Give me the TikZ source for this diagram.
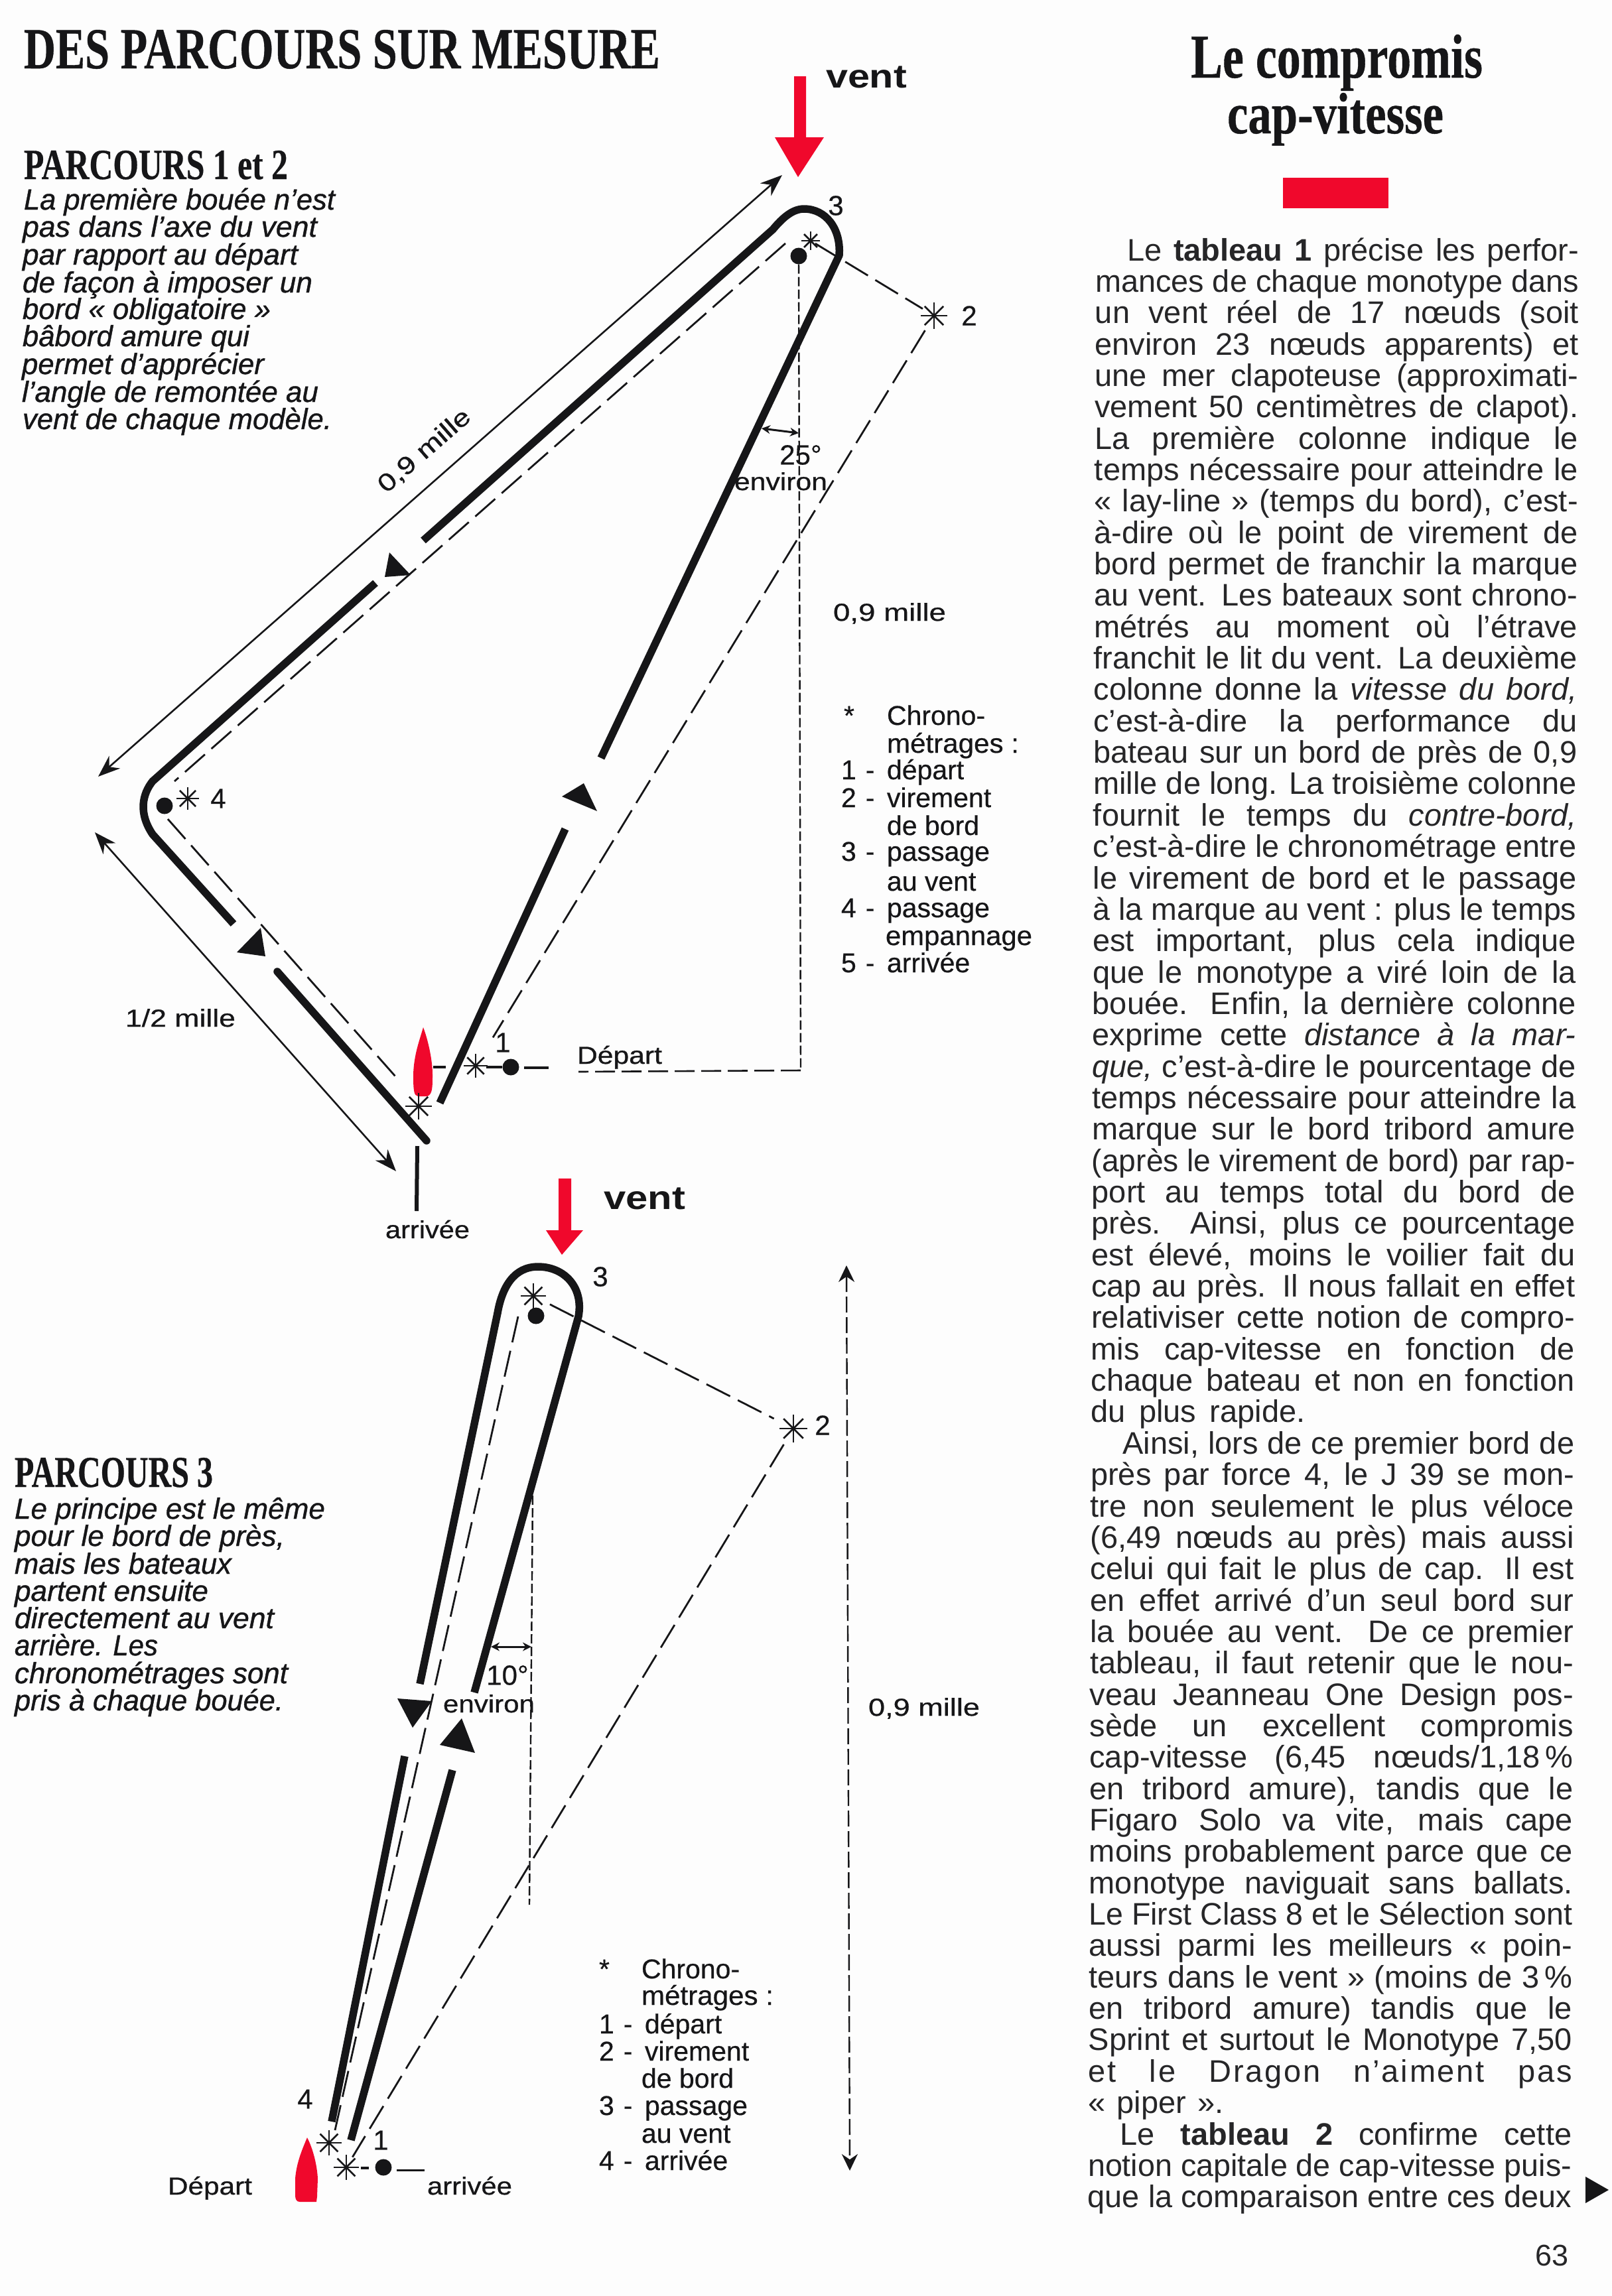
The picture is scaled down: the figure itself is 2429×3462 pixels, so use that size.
\documentclass[tikz,border=0pt]{standalone}
\usepackage{graphicx}
\usepackage{fontspec}
\setmainfont{Liberation Sans}
\newfontfamily\headf[FakeBold=0.5]{Liberation Serif}
\newfontfamily\medf[FakeBold=0.45]{Liberation Sans}
\newfontfamily\labf[FakeBold=0.7]{Liberation Sans}
\newfontfamily\notef[FakeBold=0.9]{Liberation Sans}
\usetikzlibrary{arrows.meta}
\definecolor{ink}{RGB}{22,22,24}
\definecolor{bodyink}{RGB}{38,38,40}
\definecolor{paper}{RGB}{253,253,253}
\definecolor{redm}{RGB}{240,8,44}
\newsavebox\fbx
\newcommand\fitbox[2]{\sbox\fbx{#2}\ifdim\wd\fbx>#1pt\relax\pgfmathsetmacro\fbf{#1/(\the\wd\fbx)}\scalebox{\fbf}[1]{\usebox\fbx}\else\makebox[#1pt][s]{#2}\fi}
\newcommand\xfit[2]{\sbox\fbx{#2}\pgfmathsetmacro\fbf{#1/(\the\wd\fbx)}\scalebox{\fbf}[1]{\usebox\fbx}}
\newcommand\xyfit[3]{\sbox\fbx{#3}\pgfmathsetmacro\fbf{#1/(\the\wd\fbx)}\pgfmathsetmacro\fbg{#2/(\the\ht\fbx)}\scalebox{\fbf}[\fbg]{\usebox\fbx}}
\newcommand\fs[1]{\fontsize{#1pt}{#1pt}\selectfont}
\newcommand\bodyline[3]{%
 \pgfmathsetmacro\yy{393+47.35*(#1-1)}%
 \pgfmathsetmacro\xx{1651-(\yy-450)*0.00386+#2}%
 \pgfmathsetmacro\ww{729-#2}%
 \node[bodytxt] (b#1) at (\xx,\yy) {\fitbox{\ww}{#3}};}
\newcommand\bodyshort[3]{%
 \pgfmathsetmacro\yy{393+47.35*(#1-1)}%
 \pgfmathsetmacro\xx{1651-(\yy-450)*0.00386}%
 \node[bodytxt] (b#1) at (\xx,\yy) {\fitbox{#2}{#3}};}
\newcommand\note[5]{\node[notetxt] (#1) at (#2,#3) {\xfit{#4}{#5}};}
\newcommand\legl[6]{\node[legtxt] (#1) at (#2,#3) {\makebox[69pt][l]{#4\hspace{14pt}#5}#6};}
\newcommand\starat[4]{\coordinate (#1) at (#2,#3);
 \foreach \a in {0,45,90,135}{\draw[starline] (#1) ++(\a:#4pt) -- ++(\a+180:#4*2pt);}}
\tikzset{
 x=1pt,y=-1pt,
 bodytxt/.style={inner sep=0pt,outer sep=0pt,anchor=base west,text=bodyink,font=\fs{47}},
 notetxt/.style={inner sep=0pt,outer sep=0pt,anchor=base west,text=ink,font=\notef\fs{44}\itshape},
 headtxt/.style={inner sep=0pt,outer sep=0pt,anchor=base west,text=ink,font=\headf\bfseries\fs{80}},
 legtxt/.style={inner sep=0pt,outer sep=0pt,anchor=base west,text=ink,font=\medf\fs{41}},
 lab/.style={inner sep=0pt,outer sep=0pt,text=ink,font=\labf\fs{37}},
 num/.style={inner sep=0pt,outer sep=0pt,text=ink,font=\medf\fs{42}},
 labw/.style={lab,anchor=base west},
 ventlab/.style={inner sep=0pt,outer sep=0pt,anchor=base west,text=ink,font=\bfseries\fs{50}},
 track/.style={draw=ink,line width=11.5pt,line cap=butt,line join=round},
 dirtri/.style={fill=ink,draw=none},
 course/.style={draw=ink,line width=2.8pt,dash pattern=on 40pt off 13pt},
 axis/.style={draw=ink,line width=2.4pt,dash pattern=on 14pt off 5pt},
 dim/.style={draw=ink,line width=2.6pt,{Stealth[length=33pt,width=25pt]}-{Stealth[length=33pt,width=25pt]}},
 dimdash/.style={draw=ink,line width=2.4pt,dash pattern=on 24pt off 7pt,{Stealth[length=25pt,width=24pt]}-{Stealth[length=25pt,width=24pt]}},
 anglearrow/.style={draw=ink,line width=3pt,{Stealth[length=13pt,width=13pt]}-{Stealth[length=13pt,width=13pt]}},
 starline/.style={draw=ink,line width=2.6pt},
 buoy/.style={circle,fill=ink,draw=none,minimum size=25pt,inner sep=0pt},
 redfill/.style={fill=redm,draw=none},
 bar/.style={draw=ink,line width=4pt},
}
\begin{document}
\begin{tikzpicture}
\useasboundingbox[fill=paper] (0,0) rectangle (2429,3462);
% --- headings
\node[headtxt] (h0) at (36,103) {\xyfit{959}{58}{DES PARCOURS SUR MESURE}};
\node[headtxt] (h1) at (36,270) {\xyfit{398}{43}{PARCOURS 1 et 2}};
\node[headtxt] (h2) at (22,2242) {\xyfit{299}{44}{PARCOURS 3}};
\node[headtxt] (h3) at (1795,117) {\xyfit{440}{65}{Le compromis}};
\node[headtxt] (h4) at (1850,201) {\xyfit{326}{61}{cap-vitesse}};
\fill[redfill] (1934,268) rectangle (2093,314);
% --- left notes
\note{n1}{36}{316}{469}{La première bouée n’est}
\note{n2}{34}{357}{444}{pas dans l’axe du vent}
\note{n3}{34}{399}{415}{par rapport au départ}
\note{n4}{34}{441}{437}{de façon à imposer un}
\note{n5}{34}{481}{374}{bord « obligatoire »}
\note{n6}{34}{522}{342}{bâbord amure qui}
\note{n7}{33}{564}{365}{permet d’apprécier}
\note{n8}{33}{606}{447}{l’angle de remontée au}
\note{n9}{34}{647}{466}{vent de chaque modèle.}
\note{m1}{22}{2290}{468}{Le principe est le même}
\note{m2}{22}{2331}{407}{pour le bord de près,}
\note{m3}{22}{2373}{327}{mais les bateaux}
\note{m4}{22}{2414}{292}{partent ensuite}
\note{m5}{22}{2455}{391}{directement au vent}
\note{m6}{22}{2496}{216}{arrière. Les}
\note{m7}{22}{2538}{412}{chronométrages sont}
\note{m8}{22}{2579}{405}{pris à chaque bouée.}
% --- diagram 1: points
\node[buoy] (d3) at (1204,386) {};
\node[buoy] (d4) at (248,1215) {};
\node[buoy] (d1) at (770,1609) {};
\starat{s3}{1222}{363}{14}
\starat{s2}{1408}{476}{20}
\starat{s4}{283}{1204}{17}
\starat{s1}{717}{1607}{18}
\starat{s5}{631}{1668}{20}
\coordinate (c3a) at (1184,367);
\coordinate (c4a) at (263,1178);
\coordinate (c4b) at (253,1235);
\coordinate (c5b) at (604,1632);
\coordinate (corner) at (1207,1614);
\coordinate (depu) at (872,1616);
\coordinate (tipA) at (1179,264);
\coordinate (tipB) at (148,1171);
\coordinate (tipC) at (143,1255);
\coordinate (tipD) at (597,1766);
\coordinate (barA) at (629,1728);
\coordinate (barB) at (628,1826);
\coordinate (gateA) at (653,1609);
\coordinate (gateB) at (672,1609);
\coordinate (gateC) at (733,1609);
\coordinate (gateD) at (790,1610);
\coordinate (gateE) at (827,1610);
% course lines
\draw[course,shorten <=8pt,shorten >=20pt] (s3) -- (s2);
\draw[course,shorten >=50pt,shorten <=26pt] (s2) -- (s1);
\draw[course] (c3a) -- (c4a);
\draw[course] (c4b) -- (c5b);
\draw[axis] (d3) -- (corner);
\draw[draw=ink,line width=2.6pt,dash pattern=on 30pt off 10pt] (corner) -- (depu);
% thick track
\draw[track] (638,815) -- (1165,346) .. controls (1180,328) and (1195,315) .. (1212,315) .. controls (1245,315) and (1268,345) .. (1265,385) -- (906,1143);
\draw[track] (566,879) -- (230,1178) .. controls (215,1197) and (208,1225) .. (230,1258) -- (352,1393);
\draw[track,line cap=round] (418,1465) -- (643,1720);
\draw[track] (852,1250) -- (663,1663);
\fill[dirtri] (587,833) -- (580,870) -- (619,867) -- cycle;
\fill[dirtri] (393,1399) -- (357,1436) -- (400,1442) -- cycle;
\fill[dirtri] (880,1181) -- (847,1201) -- (900,1223) -- cycle;
% dimensions
\draw[dim] (tipA) -- (tipB);
\draw[dim] (tipC) -- (tipD);
\coordinate (a25l) at (1148,646);
\coordinate (a25r) at (1204,653);
\draw[anglearrow] (a25l) -- (a25r);
% start and finish marks
\draw[bar] (gateA) -- (gateB);
\draw[bar] (gateC) -- (d1);
\draw[bar] (gateD) -- (gateE);
\draw[draw=ink,line width=6pt] (barA) -- (barB);
\fill[redfill] (638,1549) .. controls (646,1570) and (652,1600) .. (652,1620) .. controls (652,1640) and (652,1650) .. (644,1653) -- (630,1653) .. controls (624,1652) and (623,1645) .. (623,1620) .. controls (624,1590) and (632,1570) .. (638,1549) -- cycle;
\draw[starline] (s5) ++(90:20pt) -- ++(-90:40pt);
% labels diagram 1
\fill[redfill] (1197,115) -- (1215,115) -- (1215,207) -- (1242,207) -- (1203,267) -- (1168,207) -- (1197,207) -- cycle;
\node[ventlab] (v1) at (1245,132) {\xfit{122}{vent}};
\node[num] (l3) at (1260,310) {3};
\node[num] (l2) at (1461,476) {2};
\node[num] (l4) at (329,1204) {4};
\node[num] (l1) at (758,1572) {1};
\node[lab,rotate=41] (mille09a) at (640,680) {\xfit{172}{0,9 mille}};
\node[labw] (mille09b) at (1256,936) {\xfit{170}{0,9 mille}};
\node[num] (deg25) at (1207,686) {25°};
\node[labw] (env25) at (1107,739) {\xfit{140}{environ}};
\node[labw] (mille12) at (189,1548) {\xfit{166}{1/2 mille}};
\node[labw] (dep1) at (870,1604) {\xfit{128}{Départ}};
\node[labw] (arr1) at (581,1867) {\xfit{127}{arrivée}};
% legend 1
\node[legtxt] (astA) at (1272,1093) {*};
\node[legtxt] (la0) at (1337,1093) {Chrono-};
\node[legtxt] (la1) at (1337,1135) {\xfit{199}{métrages :}};
\legl{la2}{1268}{1175}{1}{-}{départ}
\legl{la3}{1268}{1217}{2}{-}{virement}
\node[legtxt] (la4) at (1337,1259) {de bord};
\legl{la5}{1268}{1298}{3}{-}{passage}
\node[legtxt] (la6) at (1337,1343) {au vent};
\legl{la7}{1268}{1383}{4}{-}{passage}
\node[legtxt] (la8) at (1335,1425) {\xfit{221}{empannage}};
\legl{la9}{1268}{1466}{5}{-}{arrivée}
% --- diagram 2
\fill[redfill] (842,1777) -- (861,1777) -- (861,1855) -- (879,1855) -- (847,1892) -- (823,1855) -- (842,1855) -- cycle;
\node[ventlab] (v2) at (910,1823) {\xfit{123}{vent}};
\node[buoy] (e3) at (808,1984) {};
\node[buoy] (e1) at (578,3268) {};
\starat{t3}{804}{1954}{19}
\starat{t2}{1196}{2154}{21}
\starat{t4}{496}{3231}{19}
\starat{t1}{522}{3268}{19}
\coordinate (e3a) at (781,1985);
\coordinate (e3b) at (505,3212);
\coordinate (ax10t) at (803,2255);
\coordinate (ax10b) at (798,2872);
\coordinate (up) at (1276,1908);
\coordinate (down) at (1281,3273);
\coordinate (hA) at (544,3269);
\coordinate (hB) at (556,3269);
\coordinate (hC) at (598,3272);
\coordinate (hD) at (640,3272);
\draw[course,shorten <=28pt,shorten >=33pt] (t3) -- (t2);
\draw[course,shorten <=28pt,shorten >=18pt] (t2) -- (t1);
\draw[course] (e3a) -- (e3b);
\draw[axis] (ax10t) -- (ax10b);
\draw[dimdash] (up) -- (down);
\draw[track] (715,2552) -- (872,1985) .. controls (880,1940) and (850,1910) .. (811,1910) .. controls (775,1910) and (757,1940) .. (750,1980) -- (633,2539);
\draw[track] (610,2648) -- (500,3199);
\draw[track] (682,2669) -- (529,3227);
\fill[dirtri] (599,2561) -- (651,2565) -- (622,2605) -- cycle;
\fill[dirtri] (696,2591) -- (663,2631) -- (716,2643) -- cycle;
\coordinate (a10l) at (740,2483);
\coordinate (a10r) at (801,2483);
\draw[anglearrow] (a10l) -- (a10r);
\draw[bar] (hA) -- (hB);
\draw[draw=ink,line width=3pt] (hC) -- (hD);
\fill[redfill] (463,3223) .. controls (472,3240) and (478,3265) .. (479,3285) -- (478,3312) -- (477,3320) -- (452,3320) .. controls (447,3320) and (445,3316) .. (445,3310) -- (445,3285) .. controls (447,3260) and (456,3240) .. (463,3223) -- cycle;
\node[num] (k3) at (905,1925) {3};
\node[num] (k2) at (1240,2149) {2};
\node[num] (k4) at (460,3165) {4};
\node[num] (k1) at (574,3227) {1};
\node[num] (deg10) at (765,2526) {10°};
\node[labw] (env10) at (668,2582) {\xfit{138}{environ}};
\node[labw] (mille09c) at (1309,2587) {\xfit{168}{0,9 mille}};
\node[labw] (dep2) at (253,3309) {\xfit{127}{Départ}};
\node[labw] (arr2) at (644,3309) {\xfit{128}{arrivée}};
% legend 2
\node[legtxt] (astB) at (903,2983) {*};
\node[legtxt] (lb0) at (967,2983) {Chrono-};
\node[legtxt] (lb1) at (967,3023) {\xfit{199}{métrages :}};
\legl{lb2}{903}{3066}{1}{-}{départ}
\legl{lb3}{903}{3107}{2}{-}{virement}
\node[legtxt] (lb4) at (967,3148) {de bord};
\legl{lb5}{903}{3189}{3}{-}{passage}
\node[legtxt] (lb6) at (967,3231) {au vent};
\legl{lb7}{903}{3272}{4}{-}{arrivée}
% --- body text
\bodyline{1}{48}{Le \textbf{tableau 1} précise les perfor-}
\bodyline{2}{0}{mances de chaque monotype dans}
\bodyline{3}{0}{un vent réel de 17 nœuds (soit}
\bodyline{4}{0}{environ 23 nœuds apparents) et}
\bodyline{5}{0}{une mer clapoteuse (approximati-}
\bodyline{6}{0}{vement 50 centimètres de clapot).}
\bodyline{7}{0}{La première colonne indique le}
\bodyline{8}{0}{temps nécessaire pour atteindre le}
\bodyline{9}{0}{« lay-line » (temps du bord), c’est-}
\bodyline{10}{0}{à-dire où le point de virement de}
\bodyline{11}{0}{bord permet de franchir la marque}
\bodyline{12}{0}{au vent. Les bateaux sont chrono-}
\bodyline{13}{0}{métrés au moment où l’étrave}
\bodyline{14}{0}{franchit le lit du vent. La deuxième}
\bodyline{15}{0}{colonne donne la \textit{vitesse du bord,}}
\bodyline{16}{0}{c’est-à-dire la performance du}
\bodyline{17}{0}{bateau sur un bord de près de 0,9}
\bodyline{18}{0}{mille de long. La troisième colonne}
\bodyline{19}{0}{fournit le temps du \textit{contre-bord,}}
\bodyline{20}{0}{c’est-à-dire le chronométrage entre}
\bodyline{21}{0}{le virement de bord et le passage}
\bodyline{22}{0}{à la marque au vent : plus le temps}
\bodyline{23}{0}{est important, plus cela indique}
\bodyline{24}{0}{que le monotype a viré loin de la}
\bodyline{25}{0}{bouée. Enfin, la dernière colonne}
\bodyline{26}{0}{exprime cette \textit{distance à la mar-}}
\bodyline{27}{0}{\textit{que,} c’est-à-dire le pourcentage de}
\bodyline{28}{0}{temps nécessaire pour atteindre la}
\bodyline{29}{0}{marque sur le bord tribord amure}
\bodyline{30}{0}{(après le virement de bord) par rap-}
\bodyline{31}{0}{port au temps total du bord de}
\bodyline{32}{0}{près. Ainsi, plus ce pourcentage}
\bodyline{33}{0}{est élevé, moins le voilier fait du}
\bodyline{34}{0}{cap au près. Il nous fallait en effet}
\bodyline{35}{0}{relativiser cette notion de compro-}
\bodyline{36}{0}{mis cap-vitesse en fonction de}
\bodyline{37}{0}{chaque bateau et non en fonction}
\bodyshort{38}{323}{du plus rapide.}
\bodyline{39}{48}{Ainsi, lors de ce premier bord de}
\bodyline{40}{0}{près par force 4, le J 39 se mon-}
\bodyline{41}{0}{tre non seulement le plus véloce}
\bodyline{42}{0}{(6,49 nœuds au près) mais aussi}
\bodyline{43}{0}{celui qui fait le plus de cap. Il est}
\bodyline{44}{0}{en effet arrivé d’un seul bord sur}
\bodyline{45}{0}{la bouée au vent. De ce premier}
\bodyline{46}{0}{tableau, il faut retenir que le nou-}
\bodyline{47}{0}{veau Jeanneau One Design pos-}
\bodyline{48}{0}{sède un excellent compromis}
\bodyline{49}{0}{cap-vitesse (6,45 nœuds/1,18\,\%}
\bodyline{50}{0}{en tribord amure), tandis que le}
\bodyline{51}{0}{Figaro Solo va vite, mais cape}
\bodyline{52}{0}{moins probablement parce que ce}
\bodyline{53}{0}{monotype naviguait sans ballats.}
\bodyline{54}{0}{Le First Class 8 et le Sélection sont}
\bodyline{55}{0}{aussi parmi les meilleurs « poin-}
\bodyline{56}{0}{teurs dans le vent » (moins de 3\,\%}
\bodyline{57}{0}{en tribord amure) tandis que le}
\bodyline{58}{0}{Sprint et surtout le Monotype 7,50}
\bodyline{59}{0}{\addfontfeature{LetterSpace=6}et le Dragon n’aiment pas}
\bodyshort{60}{204}{« piper ».}
\bodyline{61}{48}{Le \textbf{tableau 2} confirme cette}
\bodyline{62}{0}{notion capitale de cap-vitesse puis-}
\bodyline{63}{0}{que la comparaison entre ces deux}
\fill[dirtri] (2390,3282) -- (2425,3302) -- (2390,3322) -- cycle;
\node[bodytxt,font=\fs{45}] (page) at (2314,3416) {63};
\end{tikzpicture}
\end{document}
